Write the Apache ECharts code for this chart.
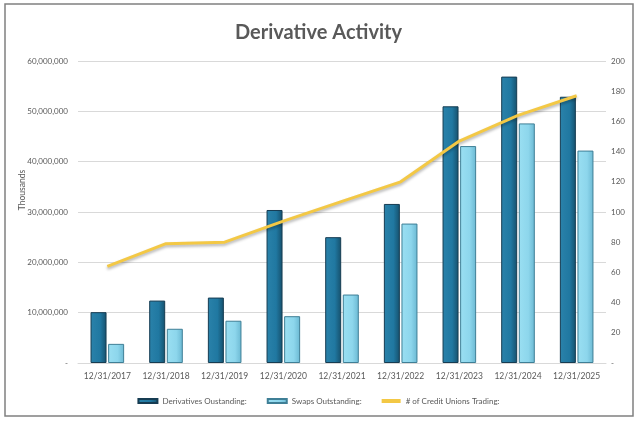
<!DOCTYPE html>
<html>
<head>
<meta charset="utf-8">
<script src="https://cdn.jsdelivr.net/npm/echarts@6/dist/echarts.min.js"></script>
<style>html,body{margin:0;padding:0;background:#fff}#c{width:637px;height:423px}</style>
</head>
<body>
<div id="c"></div>
<script>
var categories = ['12/31/2017','12/31/2018','12/31/2019','12/31/2020','12/31/2021','12/31/2022','12/31/2023','12/31/2024','12/31/2025'];
var derivatives = [10100000, 12400000, 13000000, 30400000, 25000000, 31600000, 51000000, 56900000, 52900000];
var swaps = [3800000, 6800000, 8400000, 9300000, 13600000, 27700000, 43100000, 47600000, 42200000];
var creditUnions = [64, 79, 80, 94, 107, 120, 147, 164, 177];
var seriesNames = ['Derivatives Oustanding:', 'Swaps Outstanding:', '# of Credit Unions Trading:'];

var FONT = "Lato, 'Liberation Sans', sans-serif";
var chart = echarts.init(document.getElementById('c'));
function fmtLeft(v){ return v === 0 ? '-' : v.toLocaleString('en-US'); }
function fmtRight(v){ return v === 0 ? '-' : String(v); }

chart.setOption({
  animation: false,
  backgroundColor: '#fff',
  title: {
    text: 'Derivative Activity', left: 'center', top: 18,
    textStyle: { fontFamily: FONT, fontWeight: 'bold', fontSize: 20, color: '#595959' }
  },
  graphic: [{
    type: 'rect', shape: { x: 5, y: 4, width: 628, height: 412 },
    style: { fill: 'none', stroke: '#808080', lineWidth: 1.5 }, silent: true, z: 100
  }],
  legend: {
    data: [
      { name: seriesNames[0], icon: 'rect' },
      { name: seriesNames[1], icon: 'rect' },
      { name: seriesNames[2], icon: 'rect', itemStyle: { color: '#f3c845' } }
    ],
    left: 'center', top: 392, itemWidth: 19, itemHeight: 4, itemGap: 20,
    textStyle: { fontFamily: FONT, fontSize: 8, color: '#595959' }
  },
  grid: { left: 78, right: 31, top: 61, bottom: 60, containLabel: false },
  xAxis: {
    type: 'category', data: categories,
    axisLine: { lineStyle: { color: '#d9d9d9' } }, axisTick: { show: false },
    axisLabel: { fontFamily: FONT, fontSize: 8.5, color: '#595959', margin: 9, interval: 0 }
  },
  yAxis: [{
    type: 'value', min: 0, max: 60000000, interval: 10000000,
    name: 'Thousands', nameLocation: 'middle', nameGap: 51, nameRotate: 90, nameMoveOverlap: false,
    nameTextStyle: { fontFamily: FONT, fontSize: 8.5, color: '#595959', padding: [0, 0, 0, 44] },
    axisLabel: { fontFamily: FONT, fontSize: 8, color: '#595959', margin: 10, formatter: fmtLeft },
    splitLine: { lineStyle: { color: '#d9d9d9' } }, axisLine: { show: false }, axisTick: { show: false }
  }, {
    type: 'value', min: 0, max: 200, interval: 20,
    axisLabel: { fontFamily: FONT, fontSize: 8, color: '#595959', margin: 5, formatter: fmtRight },
    splitLine: { show: false }, axisLine: { show: false }, axisTick: { show: false }
  }],
  series: [{
    name: seriesNames[0], type: 'bar', data: derivatives, barWidth: 16, barGap: '10%',
    itemStyle: {
      color: new echarts.graphic.LinearGradient(0, 0, 1, 0, [
        { offset: 0, color: '#2a82aa' }, { offset: 0.6, color: '#2078a1' }, { offset: 1, color: '#16506c' }
      ]),
      borderColor: '#163c52', borderWidth: 1
    }
  }, {
    name: seriesNames[1], type: 'bar', data: swaps, barWidth: 16,
    itemStyle: {
      color: new echarts.graphic.LinearGradient(0, 0, 1, 0, [
        { offset: 0, color: '#9adff2' }, { offset: 0.6, color: '#8dd6ec' }, { offset: 1, color: '#6bb8d2' }
      ]),
      borderColor: '#3f7f96', borderWidth: 1
    }
  }, {
    name: seriesNames[2], type: 'line', yAxisIndex: 1, data: creditUnions,
    symbol: 'none', z: 5,
    lineStyle: { color: '#f3c845', width: 3, shadowColor: 'rgba(0,0,0,0.3)', shadowBlur: 3, shadowOffsetY: 2 },
    itemStyle: { color: '#f3c845' }
  }]
});
</script>
</body>
</html>
